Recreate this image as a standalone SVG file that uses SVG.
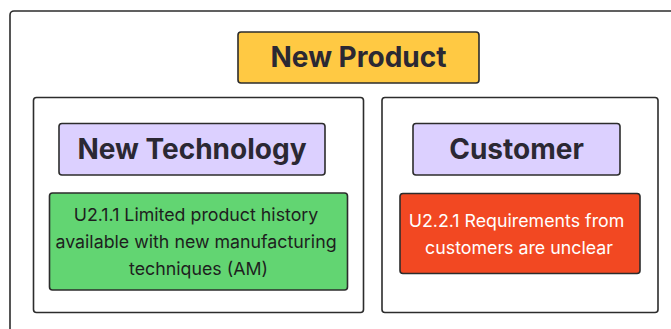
<svg xmlns="http://www.w3.org/2000/svg" width="671" height="329" viewBox="0 0 671 329">
  <style>
    .frame { fill: #ffffff; stroke: #2c2c2c; stroke-width: 1.6; }
    .box { stroke: #2c2c2c; stroke-width: 1.6; }
    .title { font-family: Inter, "Noto Sans", "Liberation Sans", sans-serif; font-weight: 700; font-size: 28px; fill: #2b2833; text-anchor: middle; }
    .body { font-family: Inter, "Noto Sans", "Liberation Sans", sans-serif; font-size: 17.8px; text-anchor: middle; }
  </style>
  <rect width="671" height="329" fill="#ffffff"/>

  <!-- outer section -->
  <g id="section-root">
    <rect class="frame" x="10" y="11" width="720" height="400" rx="4"/>
  </g>

  <g id="new-product">
    <rect class="box" x="238" y="32" width="241" height="51" rx="3" fill="#ffc943"/>
    <text class="title" x="358.5" y="67">New Product</text>
  </g>

  <!-- left column -->
  <g id="panel-technology">
    <rect class="frame" x="33.5" y="97.5" width="330" height="215" rx="3"/>
  </g>
  <g id="new-technology">
    <rect class="box" x="59" y="123.5" width="266" height="51.5" rx="3" fill="#dcd0ff"/>
    <text class="title" x="192" y="159">New Technology</text>
  </g>
  <g id="u211">
    <rect class="box" x="49.5" y="193" width="298" height="97" rx="3" fill="#62d572"/>
    <text class="body" fill="#1e1e1e">
      <tspan x="198.5" y="221">U2.1.1 Limited product history</tspan>
      <tspan x="198.5" y="248">available with new manufacturing</tspan>
      <tspan x="198.5" y="275">techniques (AM)</tspan>
    </text>
  </g>

  <!-- right column -->
  <g id="panel-customer">
    <rect class="frame" x="382" y="97.5" width="276" height="215" rx="3"/>
  </g>
  <g id="customer">
    <rect class="box" x="413" y="123.5" width="207" height="51.5" rx="3" fill="#dcd0ff"/>
    <text class="title" x="516.5" y="159">Customer</text>
  </g>
  <g id="u221">
    <rect class="box" x="400" y="193.5" width="240" height="80" rx="3" fill="#f24822"/>
    <text class="body" fill="#ffffff">
      <tspan x="519" y="226.5">U2.2.1 Requirements from</tspan>
      <tspan x="519" y="254">customers are unclear</tspan>
    </text>
  </g>

  <g id="connectors"/>
</svg>
